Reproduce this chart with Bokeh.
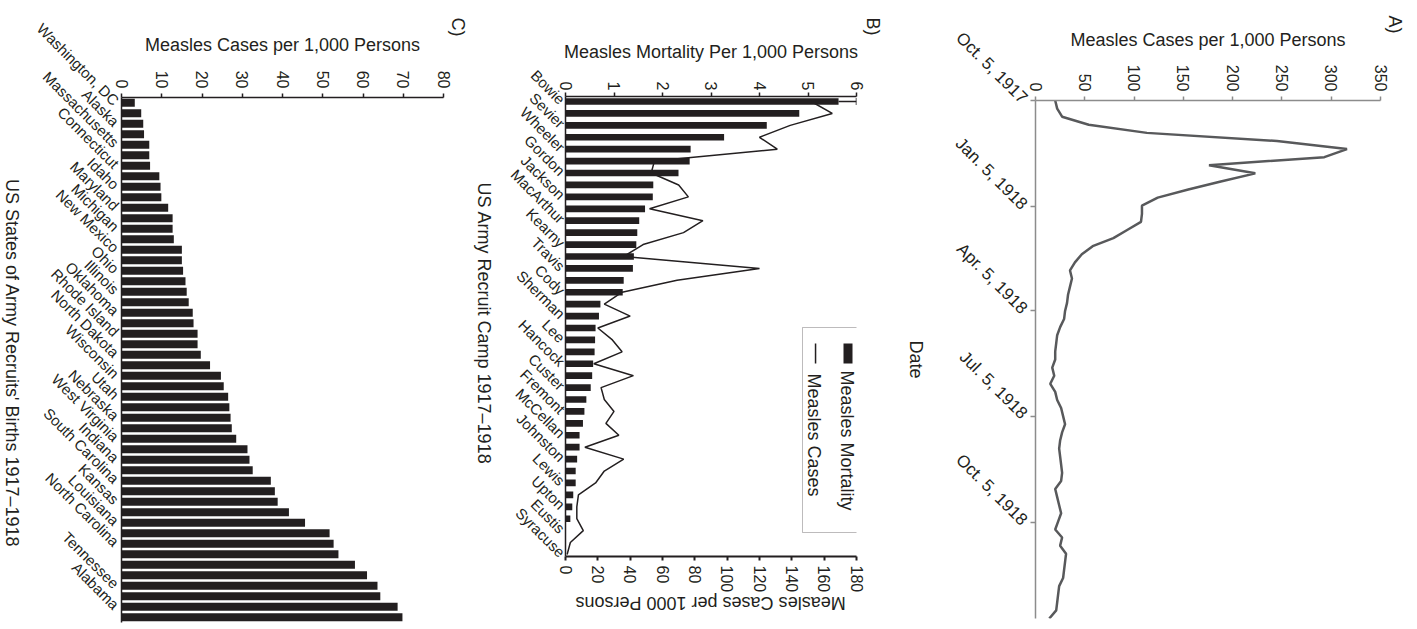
from math import pi
import pandas as pd
from bokeh.plotting import figure
from bokeh.layouts import row
from bokeh.models import ColumnDataSource, Range1d, LinearAxis, FixedTicker, Label, BoxAnnotation, Title
from bokeh.embed import file_html
from bokeh.resources import INLINE

FONT = "Liberation Sans"
INK = "#231f20"
NBSP = "\u00a0"

# ---------------- Panel C: US states ----------------
state_labels = ["Washington, DC", "Alaska", "Massachusetts", "Connecticut", "Idaho", "Maryland",
                "Michigan", "New Mexico", "Ohio", "Illinois", "Oklahoma", "Rhode Island",
                "North Dakota", "Wisconsin", "Utah", "Nebraska", "West Virginia", "Indiana",
                "South Carolina", "Kansas", "Louisiana", "North Carolina", "", "Tennessee", "Alabama"]
state_cases = [3.3, 4.9, 5.4, 5.6, 6.9, 6.9, 7.1, 9.4, 9.7, 9.9,
               11.6, 12.7, 12.7, 13.0, 15.0, 15.0, 15.3, 15.9, 16.2, 16.7,
               17.7, 17.9, 18.9, 18.9, 19.7, 22.0, 24.7, 25.4, 26.5, 26.8,
               27.1, 27.4, 28.5, 31.3, 31.8, 32.6, 37.1, 38.1, 38.8, 41.6,
               45.6, 51.7, 52.7, 53.9, 58.0, 61.0, 63.6, 64.3, 68.6, 69.8]
state_x_ticks = [0, 10, 20, 30, 40, 50, 60, 70, 80]

# ---------------- Panel B: army camps ----------------
camp_labels = ["Bowie", "Sevier", "Wheeler", "Gordon", "Jackson", "MacArthur", "Kearny", "Travis",
               "Cody", "Sherman", "Lee", "Hancock", "Custer", "Fremont", "McCellan", "Johnston",
               "Lewis", "Upton", "Eustis", "Syracuse"]
camp_mortality = [5.63, 4.82, 4.15, 3.27, 2.58, 2.56, 2.33, 1.81, 1.80, 1.64,
                  1.52, 1.48, 1.46, 1.41, 1.39, 1.20, 1.18, 0.72, 0.69, 0.62,
                  0.61, 0.60, 0.57, 0.55, 0.52, 0.43, 0.39, 0.36, 0.29, 0.29,
                  0.24, 0.21, 0.21, 0.16, 0.14, 0.10, 0.0, 0.0, 0.0]
camp_cases = [152, 165, 139, 120, 131, 55, 53, 70, 76, 52,
              85, 73, 48, 36, 120, 69, 35, 24, 40, 20,
              29, 35, 17.5, 42, 22, 24, 30, 25, 33, 12,
              36, 24, 18.6, 8, 7, 7, 11, 3, 1]
bowie_mortality_upper = 6.0
mortality_ticks = [0, 1, 2, 3, 4, 5, 6]
camp_case_ticks = [0, 20, 40, 60, 80, 100, 120, 140, 160, 180]

# ---------------- Panel A: weekly time series ----------------
week_start = "1917-10-05"
weekly_cases = [20, 22, 27, 54, 113, 245, 316, 293, 176, 223,
                188, 155, 124, 108, 108, 107, 93, 79, 58, 47,
                40, 35, 37, 35, 33, 32, 30, 29, 25, 22,
                21, 20, 20, 17, 19, 15, 20, 22, 26, 28,
                30, 27, 25, 24, 25, 26, 27, 26, 20, 22,
                24, 26, 23, 20, 27, 25, 31, 30, 29, 28,
                24, 23, 22, 21, 14]
date_ticks = ["1917-10-05", "1918-01-05", "1918-04-05", "1918-07-05", "1918-10-05"]
date_tick_labels = ["Oct. 5, 1917", "Jan. 5, 1918", "Apr. 5, 1918", "Jul. 5, 1918", "Oct. 5, 1918"]
weekly_x_ticks = [0, 50, 100, 150, 200, 250, 300, 350]


def base_fig(width, left, right, top, bottom, x_range, y_range):
    p = figure(width=width, height=629, x_range=x_range, y_range=y_range,
               x_axis_location="above", toolbar_location=None, output_backend="svg",
               min_border_left=left, min_border_right=right,
               min_border_top=top, min_border_bottom=bottom)
    if "frame_align" in p.properties():
        p.frame_align = False
    p.outline_line_color = None
    p.grid.visible = False
    p.background_fill_color = "white"
    p.border_fill_color = "white"
    return p


def style_axis(ax, color=INK, label_size="16px", tick_out=4, width=1.5):
    ax.axis_line_color = color
    ax.axis_line_width = width
    ax.major_tick_line_color = color
    ax.major_tick_line_width = width
    ax.major_tick_out = tick_out
    ax.major_tick_in = 0
    ax.minor_tick_line_color = None
    ax.major_label_text_font = FONT
    ax.major_label_text_font_size = label_size
    ax.major_label_text_color = INK
    ax.axis_label_text_font = FONT
    ax.axis_label_text_font_size = "18px"
    ax.axis_label_text_font_style = "normal"
    ax.axis_label_text_color = INK


def rotated_label(ax, text, angle, pad, standoff, align):
    # the rotated label's end sits at one end of the axis; trailing no-break spaces slide it along
    ax.axis_label = text + NBSP * pad
    ax.axis_label_standoff = standoff
    if "axis_label_orientation" in ax.properties():
        ax.axis_label_orientation = angle
    if "axis_label_align" in ax.properties():
        ax.axis_label_align = align


def add_text(p, text, x, y, angle=-pi / 2, align="left", size="18px"):
    p.add_layout(Label(x=x, y=y, x_units="screen", y_units="screen", text=text, angle=angle,
                       text_align=align, text_baseline="middle", text_font=FONT,
                       text_font_size=size, text_color=INK))


def side_title(p, text, standoff, offset):
    p.add_layout(Title(text=text, align="left", offset=offset, standoff=standoff,
                       text_font=FONT, text_font_size="18px", text_font_style="normal",
                       text_color=INK), "right")


# ======== Panel C ========
n_states = len(state_cases)
state_pos = list(range(1, n_states + 1))
state_label_pos = state_pos[::2]
pC = base_fig(509, 135, 52, 97, 7, Range1d(0, 80), Range1d(n_states + 0.5, 0.5))
pC.margin = (0, 0, 0, -14)
pC.hbar(y=state_pos, right=state_cases, left=0, height=0.76, fill_color=INK, line_color=None)
xa = pC.xaxis[0]
style_axis(xa)
xa.ticker = FixedTicker(ticks=state_x_ticks)
xa.major_label_orientation = -pi / 2
xa.axis_label = "Measles Cases per 1,000 Persons"
xa.axis_label_standoff = 13
ya = pC.yaxis[0]
style_axis(ya, label_size="15px", tick_out=0)
ya.ticker = FixedTicker(ticks=state_label_pos)
ya.major_label_overrides = dict(zip(state_label_pos, state_labels))
ya.major_label_orientation = -pi / 4
rotated_label(ya, "US States of Army Recruits' Births 1917\u20131918", -pi / 2, 15, 13, "end")
side_title(pC, "C)", 8, -80)
side_title(pC, "US Army Recruit Camp 1917\u20131918", 0, 85)

# ======== Panel B ========
n_camps = len(camp_mortality)
camp_pos = list(range(1, n_camps + 1))
camp_label_pos = camp_pos[::2]
pB = base_fig(395, 70, 34, 96, 73, Range1d(0, 6), Range1d(n_camps + 0.17, 0.58))
pB.extra_x_ranges = {"cases": Range1d(0, 180)}
srcB = ColumnDataSource(dict(y=camp_pos, m=camp_mortality, c=camp_cases))
pB.hbar(y="y", right="m", left=0, height=0.56, source=srcB, fill_color=INK, line_color=None)
pB.line(x="c", y="y", source=srcB, x_range_name="cases", line_color=INK, line_width=1.5)
# Bowie error whisker
pB.segment(x0=[camp_mortality[0]], y0=[camp_pos[0]], x1=[bowie_mortality_upper], y1=[camp_pos[0]],
           line_color=INK, line_width=1.5)
pB.segment(x0=[bowie_mortality_upper], y0=[camp_pos[0] - 0.3], x1=[bowie_mortality_upper],
           y1=[camp_pos[0] + 0.3], line_color=INK, line_width=1.5)
xb = pB.xaxis[0]
style_axis(xb)
xb.ticker = FixedTicker(ticks=mortality_ticks)
xb.major_label_orientation = -pi / 2
xb.major_label_standoff = 2
xb.axis_label = "Measles Mortality Per 1,000 Persons"
xb.axis_label_standoff = 17
xb2 = LinearAxis(x_range_name="cases")
style_axis(xb2, width=2)
xb2.ticker = FixedTicker(ticks=camp_case_ticks)
xb2.major_label_orientation = -pi / 2
rotated_label(xb2, "Measles Cases per 1000 Persons", pi, 2, 8, "start")
pB.add_layout(xb2, "below")
yb = pB.yaxis[0]
style_axis(yb, label_size="15px", tick_out=0)
yb.ticker = FixedTicker(ticks=camp_label_pos)
yb.major_label_overrides = dict(zip(camp_label_pos, camp_labels))
yb.major_label_orientation = -pi / 4
yb.major_label_standoff = 3
side_title(pB, "B)", 12, -79)
# legend (drawn rotated like the rest of the figure)
pB.add_layout(BoxAnnotation(left=237, right=292, top=229, bottom=24,
                            left_units="screen", right_units="screen", top_units="screen",
                            bottom_units="screen", fill_color="white", fill_alpha=1,
                            line_color=INK, line_width=1))
pB.add_layout(BoxAnnotation(left=278, right=287, top=213, bottom=193,
                            left_units="screen", right_units="screen", top_units="screen",
                            bottom_units="screen", fill_color=INK, fill_alpha=1, line_color=None))
pB.add_layout(BoxAnnotation(left=249.3, right=250.8, top=213, bottom=193,
                            left_units="screen", right_units="screen", top_units="screen",
                            bottom_units="screen", fill_color=INK, fill_alpha=1, line_color=None))
add_text(pB, "Measles Mortality", 281, 186)
add_text(pB, "Measles Cases", 248, 183)

# ======== Panel A ========
start = pd.Timestamp(week_start)
week_dates = pd.date_range(week_start, periods=len(weekly_cases), freq="7D")
week_days = [(d - start).days for d in week_dates]
tick_days = [(pd.Timestamp(d) - start).days for d in date_ticks]
pA = base_fig(527, 145, 37, 100, 11, Range1d(0, 350), Range1d(week_days[-1], 0))
pA.line(x=weekly_cases, y=week_days, line_color="#58595b", line_width=2.5)
GRAY = "#8c8c8c"
xA = pA.xaxis[0]
style_axis(xA, color=GRAY)
xA.ticker = FixedTicker(ticks=weekly_x_ticks)
xA.major_label_orientation = -pi / 2
xA.axis_label = "Measles Cases per 1,000 Persons"
xA.axis_label_standoff = 12
yA = pA.yaxis[0]
style_axis(yA, color=GRAY, tick_out=5, label_size="17px")
yA.ticker = FixedTicker(ticks=tick_days)
yA.major_label_overrides = dict(zip(tick_days, date_tick_labels))
yA.major_label_orientation = -pi / 4
yA.major_label_standoff = 6
rotated_label(yA, "Date", -pi / 2, 48, 26, "end")
side_title(pA, "A)", 8, -85)

layout = row(pC, pB, pA)
open("out.html", "w").write(file_html(layout, INLINE))
